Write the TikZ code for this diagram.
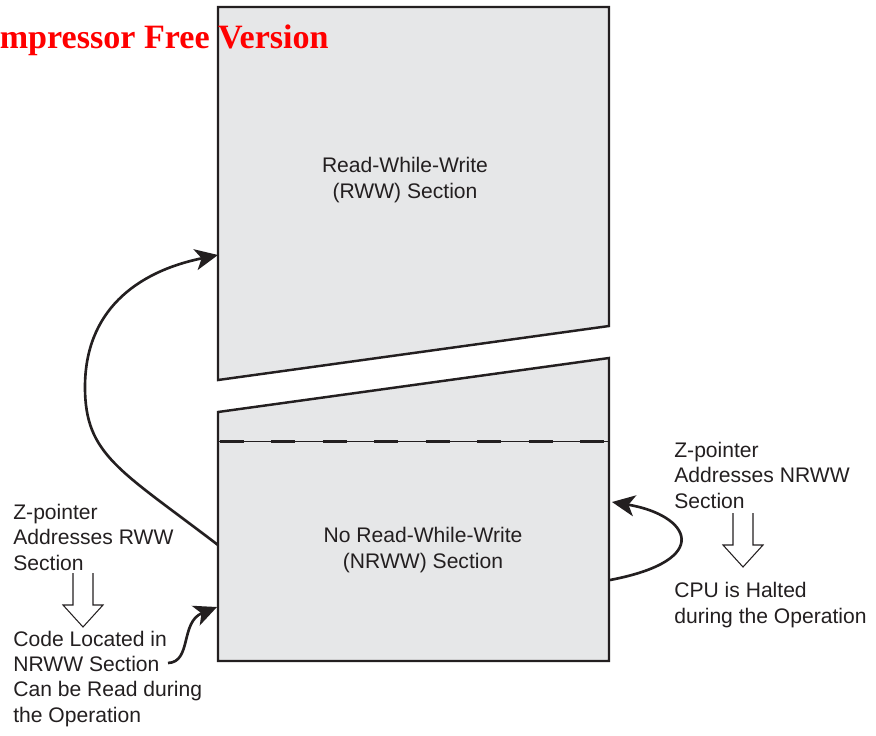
\documentclass[tikz,border=0pt]{standalone}
\usepackage{fontspec}
\setmainfont{Liberation Sans}
\newfontfamily\markfont{Liberation Serif}
\usetikzlibrary{calc,arrows.meta}
\definecolor{secfill}{RGB}{230,231,232}
\definecolor{ink}{RGB}{35,31,32}
\tikzset{
  section/.style={draw=ink, fill=secfill, line width=1.4pt, line join=miter},
  note/.style={font=\fontsize{12}{14.4}\selectfont, align=left, anchor=base west, inner sep=0pt, text=ink},
  mid/.style={font=\fontsize{12}{14.4}\selectfont, align=center, anchor=base, inner sep=0pt, text=ink},
  flow/.style={draw=ink, line width=1.5pt, -{Stealth[length=13pt, width=12pt, inset=3.5pt]}},
  hollow/.style={draw=ink, line width=0.6pt, line join=miter},
}
\begin{document}
\begin{tikzpicture}[x=0.02cm, y=-0.02cm]
  \useasboundingbox (0,0) rectangle (876,735);
  \clip (0,0) rectangle (876,735);
  % 上部 RWW 区
  \coordinate (R1) at (218,7);
  \coordinate (R2) at (609,7);
  \coordinate (R3) at (609,326);
  \coordinate (R4) at (218,380);
  % 下部 NRWW 区
  \coordinate (N1) at (218,412);
  \coordinate (N2) at (609,358);
  \coordinate (N3) at (609,661);
  \coordinate (N4) at (218,661);
  \draw[section] (R1)--(R2)--(R3)--(R4)--cycle;
  \draw[section] (N1)--(N2)--(N3)--(N4)--cycle;
  % 分界虚线
  \coordinate (D1) at (219,441);
  \coordinate (D2) at (608,441);
  \draw[ink, line width=0.5pt] (D1)--(D2);
  \draw[ink, line width=1.7pt, dash pattern=on 13.6pt off 15.7pt] ($(D1)+(1,0)$)--(D2);
  % 节点基线取末行
  \node[mid] (rww) at (405,198) {Read-While-Write\\(RWW) Section};
  \node[mid] (nrww) at (423,568) {No Read-While-Write\\(NRWW) Section};
  % 说明文字
  \node[note] (zrww) at (13,570) {Z-pointer\\Addresses RWW\\Section};
  \node[note] (code) at (13,722) {Code Located in\\NRWW Section\\Can be Read during\\the Operation};
  \node[note] (znrww) at (674,508) {Z-pointer\\Addresses NRWW\\Section};
  \node[note] (cpu) at (674,623) {CPU is Halted\\during the Operation};
  % 空心箭头
  \foreach \ax/\ay in {83/573, 743/513}
    \draw[hollow] (\ax-10,\ay) -- (\ax-10,\ay+32) -- (\ax-20,\ay+32) -- (\ax,\ay+54)
      -- (\ax+20,\ay+32) -- (\ax+10,\ay+32) -- (\ax+10,\ay);
  % 弯曲箭头
  \coordinate (a1s) at (218,545);
  \coordinate (a1e) at (218,255);
  \draw[flow] (a1s) .. controls (120,470) and (85,455) .. (85,387)
    .. controls (85,312) and (135,272) .. (a1e);
  \coordinate (a2s) at (168,663);
  \coordinate (a2e) at (217,607);
  \draw[flow] (a2s) .. controls (192,662) and (180,622) .. (a2e);
  \coordinate (a3s) at (610,580);
  \coordinate (a3e) at (612,502);
  \draw[flow] (a3s) .. controls (715,560) and (690,515) .. (a3e);
  % 水印
  \node[font=\markfont\bfseries\fontsize{19.4}{23}\selectfont, text=red, anchor=base east, inner sep=0pt] (mark) at (329,48) {mpressor Free Version};
\end{tikzpicture}
\end{document}
